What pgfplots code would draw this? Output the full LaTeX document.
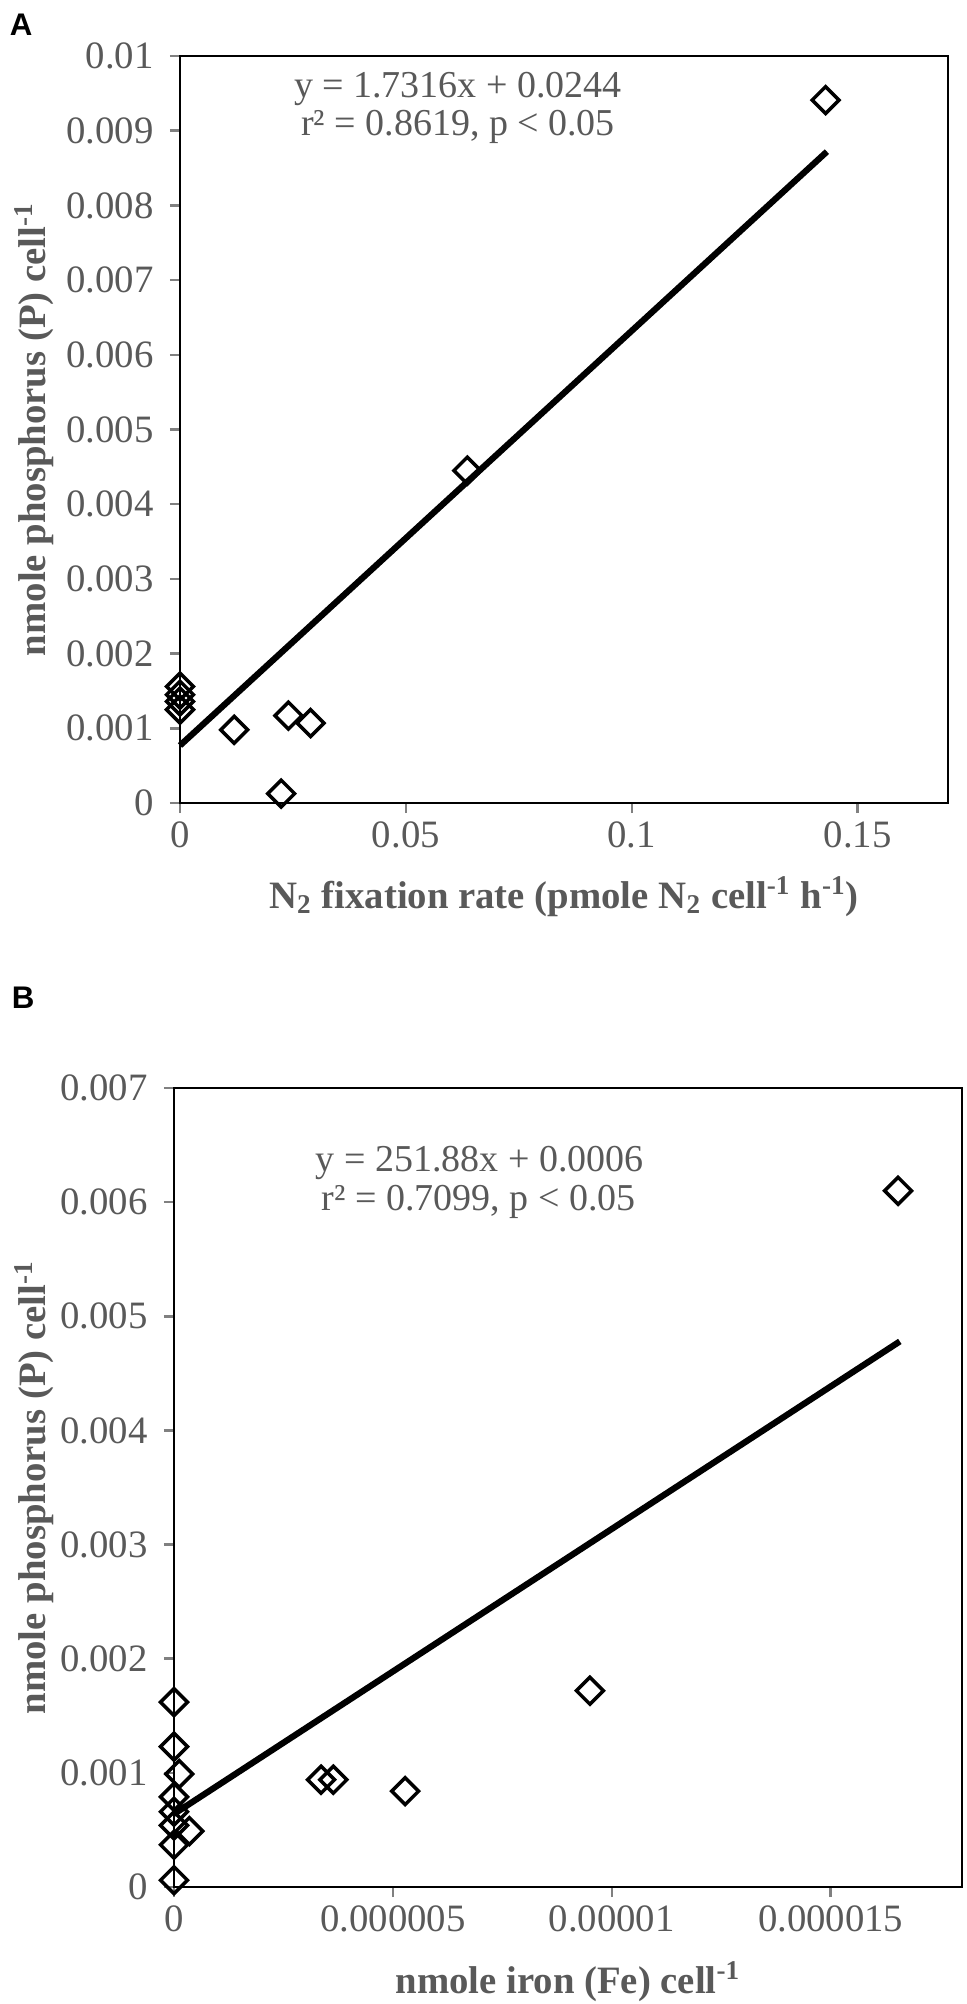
\documentclass[border=0pt]{standalone}
\usepackage{fontspec}
\setmainfont{Liberation Serif}
\newfontfamily\arialfont{Liberation Sans}
\usepackage{pgfplots}
\pgfplotsset{compat=1.18}
\definecolor{txt}{HTML}{595959}
\definecolor{tk}{HTML}{808080}
\newcommand{\T}[1]{\textrm{#1}}
\pgfplotsset{
  myaxis/.style={
    scale only axis,
    clip=false,
    axis line style={black, line width=1.1pt},
    tick align=outside,
    xtick pos=bottom, ytick pos=left,
    major tick length=4pt,
    tick style={tk, line width=1pt},
    ticklabel style={font=\rmfamily\fontsize{15.5}{18}\selectfont, text=txt},
    yticklabel style={xshift=-3pt},
    scaled x ticks=false, scaled y ticks=false,
    label style={font=\bfseries\fontsize{15.5}{18}\selectfont, text=txt},
  },
  dia/.style={only marks, mark=square, mark size=3.8pt, mark options={rotate=45, fill=white, draw=black, line width=1.4pt}},
}
\tikzset{eq/.style={anchor=base, font=\fontsize{15.2}{18}\selectfont, text=txt, inner sep=0pt}}
\begin{document}
\begin{tikzpicture}
\useasboundingbox (0,0) rectangle (386.8pt,-801.6pt);
\node[anchor=north west, inner sep=0pt, font=\arialfont\bfseries\fontsize{12.5}{14}\selectfont] at (3.8pt,-5.5pt) {A};
\node[anchor=north west, inner sep=0pt, font=\arialfont\bfseries\fontsize{12.5}{14}\selectfont] at (4.6pt,-394.5pt) {B};
\begin{axis}[myaxis, at={(72pt,-321.2pt)}, anchor=south west, width=307.2pt, height=298.8pt,
  xmin=0, xmax=0.17, ymin=0, ymax=0.01,
  xtick={0,0.05,0.1,0.15}, xticklabels={\T{0},\T{0.05},\T{0.1},\T{0.15}},
  ytick={0,0.001,0.002,0.003,0.004,0.005,0.006,0.007,0.008,0.009,0.01},
  yticklabels={\T{0},\T{0.001},\T{0.002},\T{0.003},\T{0.004},\T{0.005},\T{0.006},\T{0.007},\T{0.008},\T{0.009},\T{0.01}},
  xlabel={N\textsubscript{2} fixation rate (pmole N\textsubscript{2} cell\textsuperscript{-1} h\textsuperscript{-1})},
  ylabel={nmole phosphorus (P) cell\textsuperscript{-1}},
  xlabel style={at={(axis description cs:0.5,-0.1406)}, anchor=base},
  ylabel style={at={(axis description cs:-0.190,0.5)}, anchor=center},
]
\addplot[dia] coordinates {(0,0.00156)(0,0.00145)(0,0.00136)(0,0.00125)(0.0120,0.00098)(0.0240,0.00117)(0.0289,0.00107)(0.0224,0.000126)(0.0636,0.00445)(0.1429,0.00941)};
\addplot[black, line width=2.5pt, no marks] coordinates {(0,0.00077)(0.1432,0.00872)};
\node[eq] at (axis description cs:0.362,0.944) {y = 1.7316x + 0.0244};
\node[eq] at (axis description cs:0.362,0.894) {r² = 0.8619, p < 0.05};
\end{axis}
\begin{axis}[myaxis, at={(69.6pt,-754.8pt)}, anchor=south west, width=315.2pt, height=319.6pt,
  xmin=0, xmax=1.8e-5, ymin=0, ymax=0.007,
  xtick={0,5e-6,1e-5,1.5e-5}, xticklabels={\T{0},\T{0.000005},\T{0.00001},\T{0.000015}},
  ytick={0,0.001,0.002,0.003,0.004,0.005,0.006,0.007},
  yticklabels={\T{0},\T{0.001},\T{0.002},\T{0.003},\T{0.004},\T{0.005},\T{0.006},\T{0.007}},
  xlabel={nmole iron (Fe) cell\textsuperscript{-1}},
  ylabel={nmole phosphorus (P) cell\textsuperscript{-1}},
  xlabel style={at={(axis description cs:0.5,-0.1327)}, anchor=base},
  ylabel style={at={(axis description cs:-0.178,0.5)}, anchor=center},
]
\addplot[dia] coordinates {(0,0.00162)(0,0.00123)(0,0.00079)(0,0.00066)(0,0.00054)(0,0.00037)(0,0.00006)(1.2e-7,0.00099)(3.5e-7,0.00049)(3.36e-6,0.00094)(3.64e-6,0.00094)(5.28e-6,0.00084)(9.5e-6,0.00172)(1.654e-5,0.0061)};
\addplot[black, line width=2.5pt, no marks] coordinates {(0,0.00064)(1.658e-5,0.00478)};
\node[eq] at (axis description cs:0.388,0.895) {y = 251.88x + 0.0006};
\node[eq] at (axis description cs:0.387,0.847) {r² = 0.7099, p < 0.05};
\end{axis}
\end{tikzpicture}
\end{document}
